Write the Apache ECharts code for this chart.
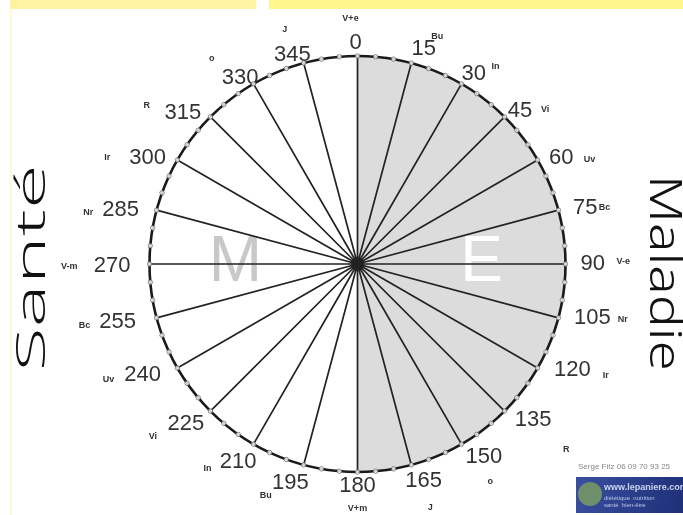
<!DOCTYPE html>
<html><head><meta charset="utf-8">
<script src="https://cdn.jsdelivr.net/npm/echarts@6/dist/echarts.min.js"></script>
<style>html,body{margin:0;padding:0;background:#fff;overflow:hidden}#c{width:683px;height:515px}</style>
</head><body><div id="c"></div>
<script>
// ---- data ----
const angleTicks = [0,15,30,45,60,75,90,105,120,135,150,165,180,195,210,225,240,255,270,285,300,315,330,345];
const smallLabels = ['V+e','Bu','In','Vi','Uv','Bc','V-e','Nr','Ir','R','o','J','V+m','Bu','In','Vi','Uv','Bc','V-m','Nr','Ir','R','o','J'];
const halves = [{name:'E', value:180},{name:'M', value:180}];
const rimDots = [0,5,10,15,20,25,30,35,40,45,50,55,60,65,70,75,80,85,90,95,100,105,110,115,120,125,130,135,140,145,150,155,160,165,170,175,180,185,190,195,200,205,210,215,220,225,230,235,240,245,250,255,260,265,270,275,280,285,290,295,300,305,310,315,320,325,330,335,340,345,350,355];
const sideTitles = {left:'Santé', right:'Maladie'};
const credit = 'Serge Fitz 06 09 70 93 25';

// ---- layout / styles ----
const CX = 357.5, CY = 264, R = 208;
const NUM_MARGIN = -18, NUM_PAD = 22;
const SML_MARGIN = -8, SML_PAD = 30;
// label nudges [dx, dy] (px) per tick, relative to the padded default position
const numNudge = [[-2,2],[17,1],[-13,7],[-6,14],[5,22],[10,-7],[11,0],[11,5],[10,-22],[1,-11],[-9,-5],[17,0],
                  [0,-1],[-18,2],[16,0],[3,-7],[-10,-17],[-16,9],[-15,2],[-13,-5],[-5,22],[0,16],[18,11],[-16,7]];
const smlNudge = [[-7,-11],[28,0],[4,10],[12,21],[23,30],[18,-5],[29,-2],[37,4],[42,-23],[34,10],[0,10],[21,16],
                  [0,10],[-40,4],[-16,-3],[-29,-3],[-40,-19],[-44,10],[-50,3],[-41,0],[-44,28],[-36,17],[-13,2],[-21,-7]];
const halfColors = ['#dcdcdc', '#ffffff'];
const halfLabelColors = ['#ffffff', '#c8c8c8'];
const FONT = 'Liberation Sans';

function padFor(i, margin, base, nudge) {
  const th = angleTicks[i] * Math.PI / 180;
  const s = Math.sin(th), c = Math.cos(th), ra = R + margin;
  const ha = Math.abs(ra * s) / R < 0.3 ? 'c' : (s > 0 ? 'l' : 'r');
  const va = Math.abs(ra * c) / R < 0.3 ? 'm' : (c < 0 ? 't' : 'b');
  const dx = nudge[i][0], dy = nudge[i][1];
  let t = 0, r = 0, b = 0, l = 0;
  if (ha === 'l') l = base + dx; else if (ha === 'r') r = base - dx; else { if (dx > 0) l = 2 * dx; else r = -2 * dx; }
  if (va === 't') t = base + dy; else if (va === 'b') b = base - dy; else { if (dy > 0) t = 2 * dy; else b = -2 * dy; }
  return [Math.max(0, t), Math.max(0, r), Math.max(0, b), Math.max(0, l)];
}
const numRich = {}, smlRich = {};
angleTicks.forEach((v, i) => {
  numRich['n' + i] = {fontSize: 22, color: '#333', fontFamily: FONT, padding: padFor(i, NUM_MARGIN, NUM_PAD, numNudge)};
  smlRich['s' + i] = {fontSize: 9, fontWeight: 'bold', color: '#333', fontFamily: FONT, padding: padFor(i, SML_MARGIN, SML_PAD, smlNudge)};
});

const axisCommon = {type: 'value', min: 0, max: 360, interval: 15, startAngle: 90, clockwise: true};
const chart = echarts.init(document.getElementById('c'), null, {renderer: 'canvas'});
chart.setOption({
  backgroundColor: '#ffffff',
  animation: false,
  polar: [{center: [CX, CY], radius: R}, {center: [CX, CY], radius: R}],
  angleAxis: [
    Object.assign({}, axisCommon, {
      polarIndex: 0, z: 10,
      axisLine: {show: true, lineStyle: {color: '#1a1a1a', width: 2.6}},
      axisTick: {show: false},
      splitLine: {show: true, lineStyle: {color: '#222', width: 1.7}},
      axisLabel: {margin: NUM_MARGIN, formatter: (v) => '{n' + Math.round(v / 15) + '|' + v + '}', rich: numRich}
    }),
    Object.assign({}, axisCommon, {
      polarIndex: 1, z: 10,
      axisLine: {show: false}, axisTick: {show: false}, splitLine: {show: false},
      axisLabel: {margin: SML_MARGIN, formatter: (v) => { const i = Math.round(v / 15); return '{s' + i + '|' + smallLabels[i] + '}'; }, rich: smlRich}
    })
  ],
  radiusAxis: [
    {polarIndex: 0, type: 'value', min: 0, max: 1, show: false},
    {polarIndex: 1, type: 'value', min: 0, max: 1, show: false}
  ],
  series: [
    {
      type: 'pie', center: [CX, CY], radius: R, startAngle: 90, clockwise: true, silent: true, z: 1,
      data: halves.map((d, i) => ({name: d.name, value: d.value, itemStyle: {color: halfColors[i]},
        label: {color: halfLabelColors[i]}})),
      label: {show: true, position: 'inside', formatter: '{b}', fontSize: 64, fontFamily: FONT, fontWeight: 'normal'},
      labelLine: {show: false},
      labelLayout: function (p) { return {dx: p.dataIndex === 0 ? 17 : -15, dy: -1}; },
      emphasis: {disabled: true}
    },
    {
      type: 'scatter', coordinateSystem: 'polar', polarIndex: 0, z: 12, silent: true,
      symbol: 'circle', symbolSize: 4.5,
      itemStyle: {color: '#ffffff', borderColor: '#555', borderWidth: 0.8},
      data: rimDots.map(a => [1, a])
    }
  ],
  graphic: [
    {type: 'rect', shape: {x: 10, y: 0, width: 246, height: 9}, style: {fill: '#fff2a0'}, z: 0},
    {type: 'rect', shape: {x: 269, y: 0, width: 414, height: 9}, style: {fill: '#fff68f'}, z: 0},
    {type: 'rect', shape: {x: 10.5, y: 0, width: 1, height: 515}, style: {fill: '#fff3b0'}, z: 0},
    {type: 'text', x: 33, y: 268, rotation: Math.PI / 2, scaleX: 1.98, z: 5,
      style: {text: sideTitles.left, font: '300 41px "Open Sans"', fill: '#111', align: 'center', verticalAlign: 'middle'}},
    {type: 'text', x: 663, y: 273, rotation: -Math.PI / 2, scaleX: 1.25, z: 5,
      style: {text: sideTitles.right, font: '300 44px "Noto Sans"', fill: '#111', align: 'center', verticalAlign: 'middle'}},
    {type: 'text', x: 578, y: 467, z: 5,
      style: {text: credit, font: '8px "Liberation Sans"', fill: '#888', align: 'left', verticalAlign: 'middle'}},
    {type: 'rect', shape: {x: 576, y: 477, width: 107, height: 36}, z: 5,
      style: {fill: new echarts.graphic.LinearGradient(0, 0, 1, 1, [{offset: 0, color: '#3a4fa0'}, {offset: 1, color: '#1f2f78'}])}},
    {type: 'circle', shape: {cx: 590, cy: 494, r: 12}, z: 6, style: {fill: '#6f8f6a'}},
    {type: 'text', x: 604, y: 483, z: 6, style: {text: 'www.lepaniere.com', font: 'bold 9px "Liberation Sans"', fill: '#c8d4f0'}},
    {type: 'text', x: 604, y: 495, z: 6, style: {text: 'diététique  nutrition\nsanté  bien-être', font: '6px "Liberation Sans"', fill: '#b8c4e8', lineHeight: 7}}
  ]
});
</script></body></html>
